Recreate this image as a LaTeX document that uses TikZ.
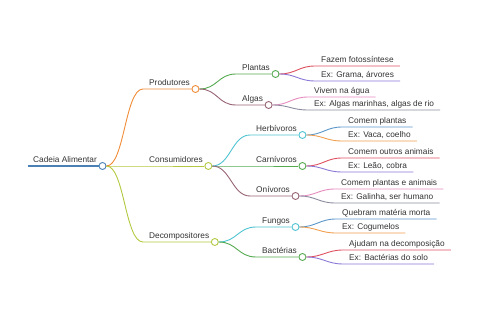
\documentclass[tikz,border=0pt]{standalone}
\usepackage{fontspec}
\setmainfont{Liberation Sans}
\usepackage{tikz}
\usetikzlibrary{positioning}
\usepackage{xcolor}

\definecolor{rootblue}{RGB}{74,128,180}
\definecolor{orangeb}{RGB}{240,140,55}
\definecolor{limeb}{RGB}{180,200,65}
\definecolor{greenb}{RGB}{85,170,80}
\definecolor{mauveb}{RGB}{150,100,115}
\definecolor{cyanb}{RGB}{80,195,210}
\definecolor{redl}{RGB}{222,80,95}
\definecolor{purplel}{RGB}{140,120,215}
\definecolor{pinkl}{RGB}{230,140,190}
\definecolor{grayl}{RGB}{140,140,160}
\definecolor{bluel}{RGB}{90,150,200}
\definecolor{orangel}{RGB}{240,160,80}
\definecolor{textgray}{RGB}{51,51,51}

\begin{document}
\begin{tikzpicture}[
    x=1pt, y=-1pt,
    label/.style={anchor=south west, inner xsep=6pt, inner ysep=3pt, text depth=0pt,
        font=\fontsize{8.3}{10}\selectfont, text=textgray},
    dot/.style={circle, draw, fill=white, minimum size=7pt, inner sep=0pt, line width=0.9pt, anchor=west},
    branch/.style={line width=0.9pt},
]
    \useasboundingbox (0,0) rectangle (480,320);

    % Root
    \node[label, inner xsep=5pt] (root-t) at (28,166) {Cadeia Alimentar};
    \node[dot, draw=rootblue] (root) at ([xshift=-3.5pt]root-t.south east) {};
    \draw[rootblue, line width=2pt] (root-t.south west) -- (root.west);

    % First level
    \node[label] (prod-t) at (143,89) {Produtores};
    \node[dot, draw=orangeb] (prod) at ([xshift=-4.5pt]prod-t.south east) {};
    \draw[branch, orangeb] (root.east) .. controls +(18,0) and +(-18,0) .. (prod-t.south west) -- (prod.west);

    \node[label] (cons-t) at (143,166) {Consumidores};
    \node[dot, draw=limeb] (cons) at ([xshift=-4.5pt]cons-t.south east) {};
    \draw[branch, limeb] (root.east) -- (cons-t.south west) -- (cons.west);

    \node[label] (decomp-t) at (143,242) {Decompositores};
    \node[dot, draw=limeb] (decomp) at ([xshift=-4.5pt]decomp-t.south east) {};
    \draw[branch, limeb] (root.east) .. controls +(18,0) and +(-18,0) .. (decomp-t.south west) -- (decomp.west);

    % Produtores
    \node[label] (plantas-t) at (236,74) {Plantas};
    \node[dot, draw=greenb] (plantas) at ([xshift=-4.5pt]plantas-t.south east) {};
    \draw[branch, greenb] (prod.east) .. controls +(18,0) and +(-18,0) .. (plantas-t.south west) -- (plantas.west);

    \node[label] (algas-t) at (236,105) {Algas};
    \node[dot, draw=mauveb] (algas) at ([xshift=-4.5pt]algas-t.south east) {};
    \draw[branch, mauveb] (prod.east) .. controls +(18,0) and +(-18,0) .. (algas-t.south west) -- (algas.west);

    % Consumidores
    \node[label] (herb-t) at (250,135) {Herbívoros};
    \node[dot, draw=cyanb] (herb) at ([xshift=-4.5pt]herb-t.south east) {};
    \draw[branch, cyanb] (cons.east) .. controls +(18,0) and +(-18,0) .. (herb-t.south west) -- (herb.west);

    \node[label] (carn-t) at (250,166) {Carnívoros};
    \node[dot, draw=greenb] (carn) at ([xshift=-4.5pt]carn-t.south east) {};
    \draw[branch, greenb] (cons.east) -- (carn-t.south west) -- (carn.west);

    \node[label] (oni-t) at (250,196) {Onívoros};
    \node[dot, draw=mauveb] (oni) at ([xshift=-4.5pt]oni-t.south east) {};
    \draw[branch, mauveb] (cons.east) .. controls +(18,0) and +(-18,0) .. (oni-t.south west) -- (oni.west);

    % Decompositores
    \node[label] (fungos-t) at (256,227) {Fungos};
    \node[dot, draw=cyanb] (fungos) at ([xshift=-4.5pt]fungos-t.south east) {};
    \draw[branch, cyanb] (decomp.east) .. controls +(18,0) and +(-18,0) .. (fungos-t.south west) -- (fungos.west);

    \node[label] (bact-t) at (256,257) {Bactérias};
    \node[dot, draw=greenb] (bact) at ([xshift=-4.5pt]bact-t.south east) {};
    \draw[branch, greenb] (decomp.east) .. controls +(18,0) and +(-18,0) .. (bact-t.south west) -- (bact.west);

    % Leaves
    \node[label] (plantas1) at (315,66) {Fazem fotossíntese};
    \node[label] (plantas2) at (315,81) {Ex: Grama, árvores};
    \draw[branch, redl] (plantas.east) .. controls +(16,0) and +(-16,0) .. (plantas1.south west) -- (plantas1.south east);
    \draw[branch, purplel] (plantas.east) .. controls +(16,0) and +(-16,0) .. (plantas2.south west) -- (plantas2.south east);

    \node[label] (algas1) at (308,97) {Vivem na água};
    \node[label] (algas2) at (308,110) {Ex: Algas marinhas, algas de rio};
    \draw[branch, pinkl] (algas.east) .. controls +(16,0) and +(-16,0) .. (algas1.south west) -- (algas1.south east);
    \draw[branch, grayl] (algas.east) .. controls +(16,0) and +(-16,0) .. (algas2.south west) -- (algas2.south east);

    \node[label] (herb1) at (342,127) {Comem plantas};
    \node[label] (herb2) at (342,141) {Ex: Vaca, coelho};
    \draw[branch, bluel] (herb.east) .. controls +(16,0) and +(-16,0) .. (herb1.south west) -- (herb1.south east);
    \draw[branch, orangel] (herb.east) .. controls +(16,0) and +(-16,0) .. (herb2.south west) -- (herb2.south east);

    \node[label] (carn1) at (342,158) {Comem outros animais};
    \node[label] (carn2) at (342,172) {Ex: Leão, cobra};
    \draw[branch, redl] (carn.east) .. controls +(16,0) and +(-16,0) .. (carn1.south west) -- (carn1.south east);
    \draw[branch, purplel] (carn.east) .. controls +(16,0) and +(-16,0) .. (carn2.south west) -- (carn2.south east);

    \node[label] (oni1) at (335,189) {Comem plantas e animais};
    \node[label] (oni2) at (335,203) {Ex: Galinha, ser humano};
    \draw[branch, pinkl] (oni.east) .. controls +(16,0) and +(-16,0) .. (oni1.south west) -- (oni1.south east);
    \draw[branch, grayl] (oni.east) .. controls +(16,0) and +(-16,0) .. (oni2.south west) -- (oni2.south east);

    \node[label] (fungos1) at (336,219) {Quebram matéria morta};
    \node[label] (fungos2) at (336,233) {Ex: Cogumelos};
    \draw[branch, bluel] (fungos.east) .. controls +(16,0) and +(-16,0) .. (fungos1.south west) -- (fungos1.south east);
    \draw[branch, orangel] (fungos.east) .. controls +(16,0) and +(-16,0) .. (fungos2.south west) -- (fungos2.south east);

    \node[label] (bact1) at (343,250) {Ajudam na decomposição};
    \node[label] (bact2) at (343,264) {Ex: Bactérias do solo};
    \draw[branch, redl] (bact.east) .. controls +(16,0) and +(-16,0) .. (bact1.south west) -- (bact1.south east);
    \draw[branch, purplel] (bact.east) .. controls +(16,0) and +(-16,0) .. (bact2.south west) -- (bact2.south east);
\end{tikzpicture}
\end{document}
